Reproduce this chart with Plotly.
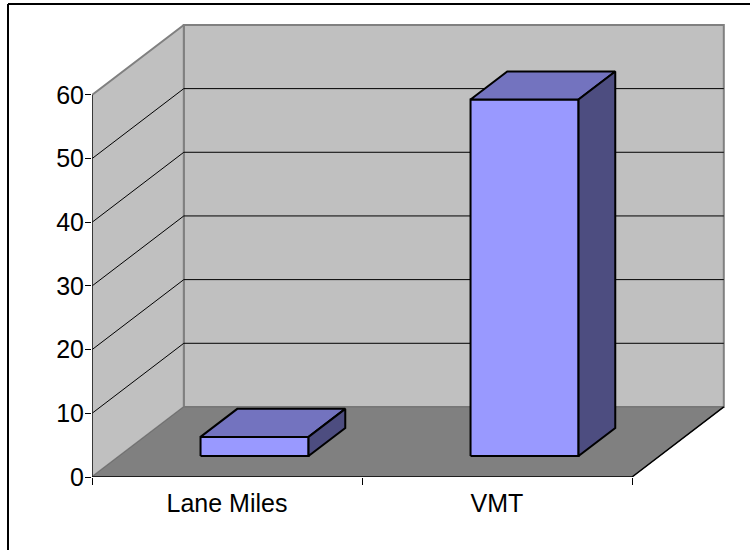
import plotly.graph_objects as go

# Data
categories = ["Lane Miles", "VMT"]
values = [3, 56]
y_ticks = [0, 10, 20, 30, 40, 50, 60]

# Oblique projection of the 3D box, in axis units
DEPTH_X = 0.34      # horizontal shift of the back plane (category units)
DEPTH_Y = 11.0      # vertical shift of the back plane (value units)
Y_MAX = 60
N_CAT = len(categories)
BAR_W = 0.4         # bar width as fraction of a category
BAR_Z0, BAR_Z1 = 0.3, 0.7   # bar front/back depth fractions

FRONT = "#9999FF"
TOP = "#7373BF"
SIDE = "#4D4D80"
WALL = "#C0C0C0"
FLOOR = "#808080"
FONT = "Liberation Sans, Arial, sans-serif"

fig = go.Figure()


def poly(xs, ys, fill, line_color, line_width):
    fig.add_trace(go.Scatter(
        x=xs + [xs[0]], y=ys + [ys[0]], mode="lines", fill="toself",
        fillcolor=fill, line=dict(color=line_color, width=line_width),
        hoverinfo="skip", showlegend=False))


def path(xs, ys, color, width):
    fig.add_trace(go.Scatter(
        x=xs, y=ys, mode="lines", line=dict(color=color, width=width),
        hoverinfo="skip", showlegend=False))


# Back wall
poly([DEPTH_X, DEPTH_X, N_CAT + DEPTH_X, N_CAT + DEPTH_X],
     [DEPTH_Y, Y_MAX + DEPTH_Y, Y_MAX + DEPTH_Y, DEPTH_Y],
     WALL, "#808080", 2)
# Side wall
poly([0, 0, DEPTH_X, DEPTH_X],
     [0, Y_MAX, Y_MAX + DEPTH_Y, DEPTH_Y],
     WALL, "#808080", 2)
# Floor
poly([0, N_CAT, N_CAT + DEPTH_X, DEPTH_X],
     [0, 0, DEPTH_Y, DEPTH_Y],
     FLOOR, "#707070", 1)

# Gridlines running along the side wall and the back wall
for v in y_ticks[1:-1]:
    path([0, DEPTH_X, N_CAT + DEPTH_X], [v, v + DEPTH_Y, v + DEPTH_Y], "black", 1)

# Front edges: value axis, floor front edge, floor right edge
path([0, 0], [0, Y_MAX], "#202020", 1.5)
path([0, N_CAT, N_CAT + DEPTH_X], [0, 0, DEPTH_Y], "black", 1.5)

# 3D columns
for i, v in enumerate(values):
    x0 = i + 0.5 - BAR_W / 2
    x1 = i + 0.5 + BAR_W / 2
    fx0, fy0 = BAR_Z0 * DEPTH_X, BAR_Z0 * DEPTH_Y
    bx0, by0 = BAR_Z1 * DEPTH_X, BAR_Z1 * DEPTH_Y
    # front face
    poly([x0 + fx0, x1 + fx0, x1 + fx0, x0 + fx0],
         [fy0, fy0, v + fy0, v + fy0], FRONT, "black", 2)
    # top face
    poly([x0 + fx0, x1 + fx0, x1 + bx0, x0 + bx0],
         [v + fy0, v + fy0, v + by0, v + by0], TOP, "black", 2)
    # right side face
    poly([x1 + fx0, x1 + bx0, x1 + bx0, x1 + fx0],
         [fy0, by0, v + by0, v + fy0], SIDE, "black", 2)

# Layout geometry
L, R, T, B = 92, 10, 5, 73
PX_PER_CAT = 270
PX_PER_UNIT = 6.367
PW, PH = 750 - L - R, 550 - T - B
x_range = [0, PW / PX_PER_CAT]
y_range = [0, PH / PX_PER_UNIT]

# Chart-area frame (top and left edges; the rest runs past the page)
frame_x = (8 - L) / PW
frame_y = (550 - B - 4) / PH
page_right = (750 - L) / PW
page_bottom = -B / PH
frame = [
    dict(type="line", xref="paper", yref="paper",
         x0=frame_x, x1=page_right, y0=frame_y, y1=frame_y,
         line=dict(color="black", width=2), layer="above"),
    dict(type="line", xref="paper", yref="paper",
         x0=frame_x, x1=frame_x, y0=frame_y, y1=page_bottom,
         line=dict(color="black", width=2), layer="above"),
]

fig.update_layout(
    width=750, height=550,
    margin=dict(l=L, r=R, t=T, b=B),
    paper_bgcolor="white", plot_bgcolor="white",
    font=dict(family=FONT, size=25, color="black"),
    xaxis=dict(
        range=x_range, showgrid=False, zeroline=False, showline=False,
        tickmode="array", tickvals=[i + 0.5 for i in range(N_CAT)],
        ticktext=categories, ticks="outside", ticklen=4,
        tickcolor="rgba(0,0,0,0)",
        minor=dict(tick0=0, dtick=1, ticks="outside", ticklen=7,
                   tickcolor="black", tickwidth=1, showgrid=False),
        fixedrange=True,
    ),
    yaxis=dict(
        range=y_range, showgrid=False, zeroline=False, showline=False,
        tickmode="array", tickvals=y_ticks, ticktext=[str(t) for t in y_ticks],
        ticks="outside", ticklen=6, tickcolor="black", tickwidth=1,
        ticklabelstandoff=-4,
        fixedrange=True,
    ),
    shapes=frame,
)

fig.write_html("out.html")
